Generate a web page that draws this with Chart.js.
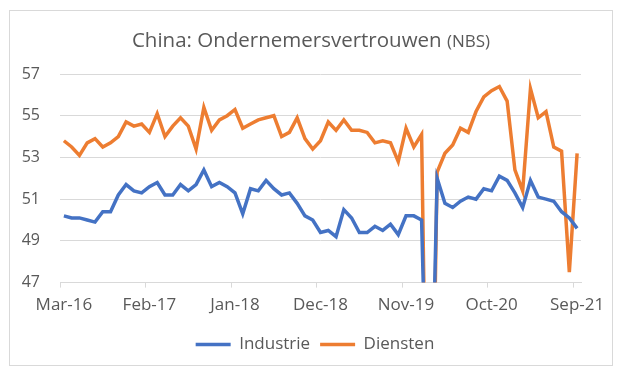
<!DOCTYPE html>
<html>
<head>
<meta charset="utf-8">
<script src="https://cdn.jsdelivr.net/npm/chart.js@4.4.1/dist/chart.umd.min.js"></script>
<style>
  body { margin: 0; background: #fff; font-family: "Open Sans", sans-serif; }
  #frame {
    position: absolute; left: 9px; top: 10px; width: 604px; height: 356px;
    box-sizing: border-box; border: 1px solid #d9d9d9; background: #fff;
  }
  #title {
    position: absolute; left: 0; top: 16px; width: 100%; text-align: center;
    font-size: 20.5px; line-height: 24px; color: #595959; white-space: nowrap;
  }
  #title span { font-size: 17px; }
</style>
</head>
<body>
<div id="frame">
  <canvas id="pmiChart"></canvas>
  <div id="title">China: Ondernemersvertrouwen <span>(NBS)</span></div>
</div>
<script>
const months = [
  'Mar-16', 'Apr-16', 'May-16', 'Jun-16', 'Jul-16', 'Aug-16', 'Sep-16', 'Oct-16', 'Nov-16', 'Dec-16',
  'Jan-17', 'Feb-17', 'Mar-17', 'Apr-17', 'May-17', 'Jun-17', 'Jul-17', 'Aug-17', 'Sep-17', 'Oct-17', 'Nov-17', 'Dec-17',
  'Jan-18', 'Feb-18', 'Mar-18', 'Apr-18', 'May-18', 'Jun-18', 'Jul-18', 'Aug-18', 'Sep-18', 'Oct-18', 'Nov-18', 'Dec-18',
  'Jan-19', 'Feb-19', 'Mar-19', 'Apr-19', 'May-19', 'Jun-19', 'Jul-19', 'Aug-19', 'Sep-19', 'Oct-19', 'Nov-19', 'Dec-19',
  'Jan-20', 'Feb-20', 'Mar-20', 'Apr-20', 'May-20', 'Jun-20', 'Jul-20', 'Aug-20', 'Sep-20', 'Oct-20', 'Nov-20', 'Dec-20',
  'Jan-21', 'Feb-21', 'Mar-21', 'Apr-21', 'May-21', 'Jun-21', 'Jul-21', 'Aug-21', 'Sep-21'
];

const industrie = [
  50.2, 50.1, 50.1, 50.0, 49.9, 50.4, 50.4, 51.2, 51.7, 51.4,
  51.3, 51.6, 51.8, 51.2, 51.2, 51.7, 51.4, 51.7, 52.4, 51.6, 51.8, 51.6,
  51.3, 50.3, 51.5, 51.4, 51.9, 51.5, 51.2, 51.3, 50.8, 50.2, 50.0, 49.4,
  49.5, 49.2, 50.5, 50.1, 49.4, 49.4, 49.7, 49.5, 49.8, 49.3, 50.2, 50.2,
  50.0, 35.7, 52.0, 50.8, 50.6, 50.9, 51.1, 51.0, 51.5, 51.4, 52.1, 51.9,
  51.3, 50.6, 51.9, 51.1, 51.0, 50.9, 50.4, 50.1, 49.6
];

const diensten = [
  53.8, 53.5, 53.1, 53.7, 53.9, 53.5, 53.7, 54.0, 54.7, 54.5,
  54.6, 54.2, 55.1, 54.0, 54.5, 54.9, 54.5, 53.4, 55.4, 54.3, 54.8, 55.0,
  55.3, 54.4, 54.6, 54.8, 54.9, 55.0, 54.0, 54.2, 54.9, 53.9, 53.4, 53.8,
  54.7, 54.3, 54.8, 54.3, 54.3, 54.2, 53.7, 53.8, 53.7, 52.8, 54.4, 53.5,
  54.1, 29.6, 52.3, 53.2, 53.6, 54.4, 54.2, 55.2, 55.9, 56.2, 56.4, 55.7,
  52.4, 51.4, 56.3, 54.9, 55.2, 53.5, 53.3, 47.5, 53.2
];

const labelStep = 11;
const textColor = '#595959';
const gridColor = '#d9d9d9';

const ctx = document.getElementById('pmiChart').getContext('2d');
new Chart(ctx, {
  type: 'line',
  data: {
    labels: months,
    datasets: [
      {
        label: 'Industrie',
        data: industrie,
        borderColor: '#4472c4',
        backgroundColor: '#4472c4',
        borderWidth: 3.5,
        pointRadius: 0,
        tension: 0
      },
      {
        label: 'Diensten',
        data: diensten,
        borderColor: '#ed7d31',
        backgroundColor: '#ed7d31',
        borderWidth: 3.5,
        pointRadius: 0,
        tension: 0
      }
    ]
  },
  options: {
    responsive: true,
    maintainAspectRatio: false,
    animation: false,
    layout: { padding: { left: 8, right: 0, top: 63, bottom: 2 } },
    plugins: {
      title: { display: false },
      tooltip: { enabled: false },
      legend: {
        position: 'bottom',
        labels: {
          color: textColor,
          font: { family: 'Open Sans', size: 17 },
          usePointStyle: true,
          pointStyle: 'line',
          pointStyleWidth: 35,
          padding: 10
        }
      }
    },
    scales: {
      x: {
        offset: true,
        grid: {
          offset: true,
          drawOnChartArea: false,
          drawTicks: true,
          tickLength: 5,
          color: c => (c.index % labelStep === 0 ? gridColor : 'rgba(0,0,0,0)')
        },
        border: { color: gridColor },
        ticks: {
          autoSkip: false,
          maxRotation: 0,
          minRotation: 0,
          padding: 7,
          color: textColor,
          font: { family: 'Open Sans', size: 17 },
          callback: function(value, index) {
            return index % labelStep === 0 ? this.getLabelForValue(value) : '';
          }
        },
        afterFit(scale) {
          scale.paddingRight = 31;
          scale.height += 4;
        }
      },
      y: {
        min: 47,
        max: 57,
        ticks: {
          stepSize: 2,
          padding: 20,
          color: textColor,
          font: { family: 'Open Sans', size: 16 }
        },
        grid: { color: gridColor, drawTicks: false },
        border: { display: false },
        afterFit(scale) { scale.width = 42; }
      }
    }
  }
});
</script>
</body>
</html>
